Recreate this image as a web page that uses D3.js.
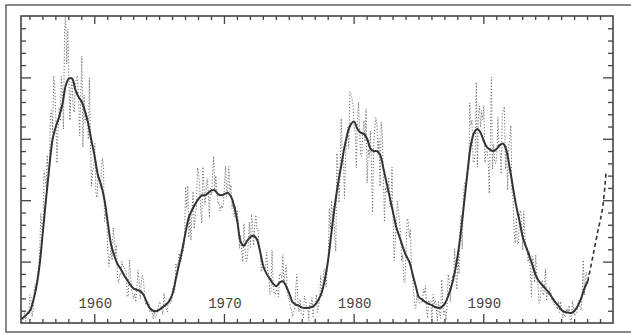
<!DOCTYPE html>
<html>
<head>
<meta charset="utf-8">
<script src="https://cdn.jsdelivr.net/npm/d3@7"></script>
<style>
  body { margin: 0; background: #fff; }
  svg { display: block; }
</style>
</head>
<body>
<svg id="chart"></svg>
<script>
// monthly sunspot numbers, Jan 1954 onwards (one row per year)
const monthlyStart = 1954;
const monthlySunspots = [
  0.2, 0.5, 10.9, 1.8, 0.8, 0.2, 4.8, 8.4, 1.5, 7.0, 9.2, 7.6,
  23.1, 20.8, 4.9, 11.3, 28.9, 31.7, 26.7, 40.7, 42.7, 58.5, 89.2, 76.9,
  73.6, 124.0, 118.4, 110.7, 136.6, 116.6, 129.1, 169.6, 173.2, 155.3, 201.3, 192.1,
  165.0, 130.2, 157.4, 175.2, 164.6, 200.7, 187.2, 158.0, 235.8, 253.8, 210.9, 239.4,
  202.5, 164.9, 190.7, 196.0, 175.3, 171.5, 191.4, 200.2, 201.2, 181.5, 152.3, 187.6,
  217.4, 143.1, 185.7, 163.3, 172.0, 168.7, 149.6, 199.6, 145.2, 111.4, 124.0, 125.0,
  146.3, 106.0, 102.2, 122.0, 119.6, 110.2, 121.7, 134.1, 127.2, 82.8, 89.6, 85.6,
  57.9, 46.1, 53.0, 61.4, 51.0, 77.4, 70.2, 55.8, 63.6, 37.7, 32.6, 39.9,
  38.7, 50.3, 45.6, 46.4, 43.7, 42.0, 21.8, 21.8, 51.3, 39.5, 26.9, 23.2,
  19.8, 24.4, 17.1, 29.3, 43.0, 35.9, 19.6, 33.2, 38.8, 35.3, 23.4, 14.9,
  15.3, 17.7, 16.5, 8.6, 9.5, 9.1, 3.1, 9.3, 4.7, 6.1, 7.4, 15.1,
  17.5, 14.2, 11.7, 6.8, 24.1, 15.9, 11.9, 8.9, 16.8, 20.1, 15.8, 17.0,
  28.2, 24.4, 25.3, 48.7, 45.3, 47.7, 56.7, 51.2, 50.2, 57.2, 57.2, 70.4,
  110.9, 93.6, 111.8, 69.5, 86.5, 67.3, 91.5, 107.2, 76.8, 88.2, 94.3, 126.4,
  121.8, 111.9, 92.2, 81.2, 127.2, 110.3, 96.1, 109.3, 117.2, 107.7, 86.0, 109.8,
  104.4, 120.5, 135.8, 106.8, 120.0, 106.0, 96.8, 98.0, 91.3, 95.7, 93.5, 97.9,
  111.5, 127.8, 102.9, 109.5, 127.5, 106.8, 112.5, 93.0, 99.5, 86.6, 95.2, 83.5,
  91.3, 79.0, 60.7, 71.8, 57.5, 49.8, 81.0, 61.4, 50.2, 51.7, 63.2, 82.2,
  61.5, 88.4, 80.1, 63.2, 80.5, 88.0, 76.5, 76.8, 64.0, 61.3, 41.6, 45.3,
  43.4, 42.9, 46.0, 57.7, 42.4, 39.5, 23.1, 25.6, 59.3, 30.7, 23.9, 23.3,
  27.6, 26.0, 21.3, 40.3, 39.5, 36.6, 55.8, 33.6, 40.2, 47.1, 25.0, 20.5,
  18.9, 11.5, 11.5, 5.1, 9.0, 11.4, 28.2, 39.7, 13.9, 9.1, 19.4, 7.8,
  8.1, 4.3, 21.9, 18.8, 12.4, 12.2, 1.9, 16.4, 13.5, 20.6, 5.2, 15.3,
  16.4, 23.1, 8.7, 12.9, 18.6, 38.5, 21.4, 30.1, 44.0, 43.8, 29.1, 43.2,
  51.9, 93.6, 76.5, 99.7, 82.7, 95.1, 70.4, 58.1, 138.2, 125.1, 97.9, 122.7,
  166.6, 137.5, 138.0, 101.5, 134.4, 149.5, 159.4, 142.2, 188.4, 186.2, 183.3, 176.3,
  159.6, 155.0, 126.2, 164.1, 179.9, 157.3, 136.3, 135.4, 155.0, 164.7, 147.9, 174.4,
  114.0, 141.3, 135.5, 156.4, 127.5, 90.0, 143.8, 158.7, 167.3, 162.4, 137.5, 150.1,
  111.2, 163.6, 153.8, 122.0, 82.2, 110.4, 106.1, 107.6, 118.8, 94.7, 98.1, 127.0,
  84.3, 51.0, 66.5, 80.7, 99.2, 91.1, 82.2, 71.8, 50.3, 55.8, 33.3, 33.4,
  57.0, 85.1, 83.5, 69.7, 76.4, 46.1, 37.4, 25.5, 15.7, 12.0, 22.8, 18.7,
  16.5, 15.9, 17.2, 16.2, 27.5, 24.2, 30.7, 11.1, 3.9, 18.6, 16.2, 17.3,
  2.5, 23.2, 15.1, 18.5, 13.7, 1.1, 18.1, 7.4, 3.8, 35.4, 15.2, 6.8,
  10.4, 2.4, 14.7, 39.6, 33.0, 17.4, 33.0, 38.7, 33.9, 60.6, 39.9, 27.1,
  59.0, 40.0, 76.2, 88.0, 60.1, 101.8, 113.8, 111.6, 120.1, 125.1, 125.1, 179.2,
  161.3, 165.1, 131.4, 130.6, 138.5, 196.2, 126.9, 168.9, 176.7, 159.4, 173.0, 165.5,
  177.3, 130.5, 140.3, 140.3, 132.2, 105.4, 149.4, 200.3, 125.2, 145.5, 131.4, 129.7,
  136.9, 167.5, 141.9, 140.0, 121.3, 169.7, 173.7, 176.3, 125.3, 144.1, 108.2, 144.4,
  150.0, 161.1, 106.7, 99.8, 73.8, 65.2, 85.7, 64.5, 63.9, 88.7, 91.8, 82.6,
  59.3, 91.0, 69.8, 62.2, 61.3, 49.8, 57.9, 42.3, 21.4, 54.1, 49.3, 33.1,
  55.5, 35.5, 31.7, 16.1, 17.8, 28.0, 35.1, 22.5, 25.7, 44.0, 18.0, 26.2,
  23.3, 28.8, 25.0, 18.6, 17.9, 14.7, 15.1, 15.4, 10.9, 17.8, 8.6, 17.6,
  11.5, 4.4, 9.2, 4.8, 5.5, 11.8, 8.2, 14.4, 1.6, 0.9, 17.9, 13.3,
  5.7, 7.6, 8.7, 15.5, 18.5, 12.7, 10.4, 24.4, 51.3, 22.8, 39.0, 41.2,
  31.9, 40.3
];

// smoothed numbers, one value per quarter (Jan, Apr, Jul, Oct) from 1954
const smoothedSunspots = [
  5, 3.5, 4.5, 7,
  10, 18, 30, 48,
  75, 102, 128, 150,
  160, 168, 178, 193,
  199, 199, 190, 184,
  180, 172, 162, 148,
  135, 120, 112, 100,
  82, 64, 55, 48,
  44, 39, 35, 31,
  28, 27, 26, 23,
  17, 12, 10, 9.6,
  11, 13, 15, 18,
  24, 36, 48, 60,
  74, 86, 92, 97,
  101, 104, 104, 106,
  108, 108, 105, 104,
  105, 106, 103, 95,
  82, 66, 63, 67,
  70, 71, 68, 58,
  46, 40, 36, 32,
  30, 33, 34, 30,
  24, 17, 15, 14,
  12.5, 12.2, 12.5, 13,
  15, 19, 25, 36,
  52, 74, 95, 113,
  128, 143, 155, 162,
  164, 158, 155, 154,
  150, 142, 140, 140,
  137, 126, 114, 102,
  90, 78, 70, 62,
  55, 50, 40, 30,
  21, 19, 17, 15.5,
  14.5, 13, 12.3, 13,
  16, 22, 30, 41,
  56, 76, 100, 124,
  145, 155, 158, 155,
  148, 143, 141, 140,
  142, 145, 146, 140,
  126, 110, 95, 83,
  70, 62, 55, 47,
  39, 34, 31, 28,
  25, 21, 17, 14,
  10.5, 9, 8.5, 8.2,
  10, 14, 20, 28,
  34
];

// forecast (dashed)
const forecastYears = [1998.06, 1998.8, 1999.2, 1999.46];
const forecastValues = [34, 73, 94, 122];

const decadeLabels = [1960, 1970, 1980, 1990];

const width = 631, height = 334;
const plot = { left: 21, right: 613, top: 16, bottom: 323 };

const svg = d3.select('#chart').attr('width', width).attr('height', height);

const x = d3.scaleLinear().domain([1954.35, 2000]).range([plot.left, plot.right]);
const y = d3.scaleLinear().domain([0, 250]).range([plot.bottom, plot.top]);

// outer border of the figure
svg.append('rect')
  .attr('x', 6).attr('y', 5)
  .attr('width', 640).attr('height', 327)
  .attr('fill', 'none')
  .attr('stroke', '#555')
  .attr('stroke-width', 1.4);

svg.append('clipPath').attr('id', 'clip')
  .append('rect')
  .attr('x', plot.left).attr('y', plot.top)
  .attr('width', plot.right - plot.left).attr('height', plot.bottom - plot.top);

let g = svg.append('g').attr('clip-path', 'url(#clip)');

let monthly = monthlySunspots.map((v, i) => [monthlyStart + (i + 0.5) / 12, v]);
let smoothed = smoothedSunspots.map((v, i) => [monthlyStart + (i * 3 + 0.5) / 12, v]);
let forecast = forecastYears.map((t, i) => [t, forecastValues[i]]);

let line = d3.line().x(d => x(d[0])).y(d => y(d[1]));

g.append('path')
  .datum(monthly)
  .attr('d', line)
  .attr('fill', 'none')
  .attr('stroke', '#6e6e6e')
  .attr('stroke-width', 1)
  .attr('stroke-dasharray', '1.2,1.9');

g.append('path')
  .datum(smoothed)
  .attr('d', line.curve(d3.curveCatmullRom))
  .attr('fill', 'none')
  .attr('stroke', '#333')
  .attr('stroke-width', 2);

g.append('path')
  .datum(forecast)
  .attr('d', d3.line().x(d => x(d[0])).y(d => y(d[1])).curve(d3.curveCatmullRom))
  .attr('fill', 'none')
  .attr('stroke', '#333')
  .attr('stroke-width', 1.6)
  .attr('stroke-dasharray', '4,3');

// inward ticks on all four sides
let years = d3.range(1955, 2000);
let minorYears = years.filter(d => d % 10 !== 0);
let majorYears = years.filter(d => d % 10 === 0);
let minorVals = d3.range(10, 250, 10).filter(d => d % 50 !== 0);
let majorVals = [50, 100, 150, 200];

function addAxis(axis, transform) {
  let a = svg.append('g').attr('transform', transform).call(axis.tickFormat(''));
  a.select('.domain').remove();
  a.selectAll('line').attr('stroke', '#444').attr('stroke-width', 1.3);
}

addAxis(d3.axisBottom(x).tickValues(minorYears).tickSize(-4), `translate(0,${plot.bottom})`);
addAxis(d3.axisBottom(x).tickValues(majorYears).tickSize(-9), `translate(0,${plot.bottom})`);
addAxis(d3.axisTop(x).tickValues(minorYears).tickSize(-4), `translate(0,${plot.top})`);
addAxis(d3.axisTop(x).tickValues(majorYears).tickSize(-8), `translate(0,${plot.top})`);
addAxis(d3.axisLeft(y).tickValues(minorVals).tickSize(-5), `translate(${plot.left},0)`);
addAxis(d3.axisLeft(y).tickValues(majorVals).tickSize(-10), `translate(${plot.left},0)`);
addAxis(d3.axisRight(y).tickValues(minorVals).tickSize(-5), `translate(${plot.right},0)`);
addAxis(d3.axisRight(y).tickValues(majorVals).tickSize(-10), `translate(${plot.right},0)`);

svg.append('rect')
  .attr('x', plot.left).attr('y', plot.top)
  .attr('width', plot.right - plot.left).attr('height', plot.bottom - plot.top)
  .attr('fill', 'none')
  .attr('stroke', '#444')
  .attr('stroke-width', 1.6);

svg.selectAll('text.decade')
  .data(decadeLabels)
  .enter()
  .append('text')
  .attr('class', 'decade')
  .attr('x', d => x(d) + 1)
  .attr('y', 308)
  .attr('text-anchor', 'middle')
  .attr('font-family', 'Liberation Mono, monospace')
  .attr('font-size', 14)
  .attr('fill', '#444')
  .text(d => d);
</script>
</body>
</html>
